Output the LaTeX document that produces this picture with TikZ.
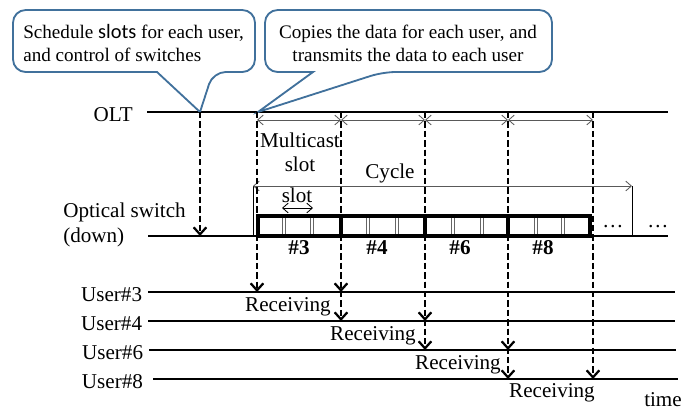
\documentclass[tikz,border=0pt]{standalone}
\usepackage{fontspec}
\setmainfont{Liberation Serif}
\newfontfamily\slotsfont{Carlito}
\usetikzlibrary{arrows.meta}
\usetikzlibrary{positioning}

\definecolor{calloutblue}{RGB}{65,113,156}

\begin{document}
\begin{tikzpicture}
  [x=0.025cm,y=-0.025cm,
   every node/.style={font=\fontsize{15}{17}\selectfont,inner sep=0pt},
   note text/.style={font=\fontsize{13.6}{16.4}\selectfont},
   slot label/.style={font=\fontsize{15}{17}\selectfont\bfseries},
   time line/.style={line width=1.2pt},
   recv arrow/.style={line width=1.6pt,dash pattern=on 4.5pt off 2.2pt,-{Straight Barb[length=5pt,width=9pt]}},
   span arrow/.style={gray!70!black,line width=0.6pt,{Straight Barb[length=4pt,width=7pt]}-{Straight Barb[length=4pt,width=7pt]}},
   frame line/.style={line width=2.6pt},
   slot line/.style={draw=gray!80!black,line width=0.5pt,double=white,double distance=1.2pt},
   callout line/.style={draw=calloutblue,line width=1.3pt,fill=white,rounded corners=9}]
  \useasboundingbox (0,0) rectangle (700,410);

  % time axes
  \coordinate (oltL) at (147,112);  \coordinate (oltR) at (668,112);
  \coordinate (swL)  at (148,236);  \coordinate (swR)  at (668,236);
  \coordinate (u3L)  at (148,292);  \coordinate (u3R)  at (675,292);
  \coordinate (u4L)  at (148,321);  \coordinate (u4R)  at (675,321);
  \coordinate (u6L)  at (149,350);  \coordinate (u6R)  at (676,350);
  \coordinate (u8L)  at (153,379);  \coordinate (u8R)  at (678,379);
  \draw[time line] (oltL) -- (oltR);
  \draw[time line] (swL) -- (swR);
  \draw[time line] (u3L) -- (u3R);
  \draw[time line] (u4L) -- (u4R);
  \draw[time line] (u6L) -- (u6R);
  \draw[time line] (u8L) -- (u8R);

  \node (olt)   [left=10pt of oltL, yshift=-2pt] {OLT};
  \node (optsw) [anchor=west] at (63,212) {Optical switch};
  \node (down)  [anchor=west] at (63,237) {(down)};
  \node (user3) [left=4pt of u3L, yshift=-2pt] {User\#3};
  \node (user4) [left=4pt of u4L, yshift=-2pt] {User\#4};
  \node (user6) [left=4pt of u6L, yshift=-2pt] {User\#6};
  \node (user8) [left=7pt of u8L, yshift=-2pt] {User\#8};
  \node (time)  at (663,400) {time};

  % callouts
  \draw[callout line] (157,72) -| (13,10) -| (255,72) -- (213,72) [sharp corners] -- (200,112) -- cycle;
  \draw[callout line] (313,72) -| (265,10) -| (552,72) -- (383,72) [sharp corners] -- (258,112) -- cycle;
  \node[note text] (note1) [anchor=west,align=left] at (23,43)
    {Schedule {\slotsfont\fontsize{14.5}{16.4}\selectfont slots} for each user,\\and control of switches};
  \node[note text] (note2) [align=center] at (408,43)
    {Copies the data for each user, and\\transmits the data to each user};

  % slot columns on the OLT line
  \coordinate (c0) at (200,112);
  \coordinate (c1) at (257,112);
  \coordinate (c2) at (341,112);
  \coordinate (c3) at (425,112);
  \coordinate (c4) at (508,112);
  \coordinate (c5) at (593,112);
  \coordinate (s1) at (257,120);
  \coordinate (s2) at (341,120);
  \coordinate (s3) at (425,120);
  \coordinate (s4) at (508,120);
  \coordinate (s5) at (593,120);
  \draw[span arrow] (s1) -- (s2);
  \draw[span arrow] (s2) -- (s3);
  \draw[span arrow] (s3) -- (s4);
  \draw[span arrow] (s4) -- (s5);
  \node (mcast) [align=center] at (300,152) {Multicast\\slot};

  % cycle
  \coordinate (cyL) at (253,186);
  \coordinate (cyR) at (632,186);
  \draw[line width=0.7pt] (cyL) -- (cyL |- swL);
  \draw[line width=0.7pt] (cyR) -- (cyR |- swL);
  \draw[span arrow] (cyL) -- (cyR);
  \node (cycle) at (390,173) {Cycle};

  % switch frame
  \draw[slot line] (284,216) -- (284,236) (312,216) -- (312,236)
                   (368,216) -- (368,236) (397,216) -- (397,236)
                   (453,216) -- (453,236) (482,216) -- (482,236)
                   (536,216) -- (536,236) (563,216) -- (563,236);
  \draw[frame line] (258,216) rectangle (590,236);
  \draw[frame line] (341,216) -- (341,236) (425,216) -- (425,236) (508,216) -- (508,236);
  \coordinate (slL) at (282,208);
  \coordinate (slR) at (313,208);
  \draw[span arrow,black] (slL) -- (slR);
  \node (slot) at (297,195) {slot};
  \node (dots1) at (613,227) {\dots};
  \node (dots2) at (658,227) {\dots};
  \node[slot label] (n3) at (299,248) {\#3};
  \node[slot label] (n4) at (377,248) {\#4};
  \node[slot label] (n6) at (460,248) {\#6};
  \node[slot label] (n8) at (543,248) {\#8};

  % receiving
  \draw[recv arrow] (c0) -- (c0 |- swL);
  \draw[recv arrow] (c1) -- (c1 |- u3L);
  \draw[recv arrow] (c2) -- (c2 |- u3L);
  \draw[recv arrow] (c2) -- (c2 |- u4L);
  \draw[recv arrow] (c3) -- (c3 |- u4L);
  \draw[recv arrow] (c3) -- (c3 |- u6L);
  \draw[recv arrow] (c4) -- (c4 |- u6L);
  \draw[recv arrow] (c4) -- (c4 |- u8L);
  \draw[recv arrow] (c5) -- (c5 |- u8L);
  \node (recv3) at (288,307) {Receiving};
  \node (recv4) at (373,336) {Receiving};
  \node (recv6) at (458,365) {Receiving};
  \node (recv8) at (552,393) {Receiving};
\end{tikzpicture}
\end{document}
